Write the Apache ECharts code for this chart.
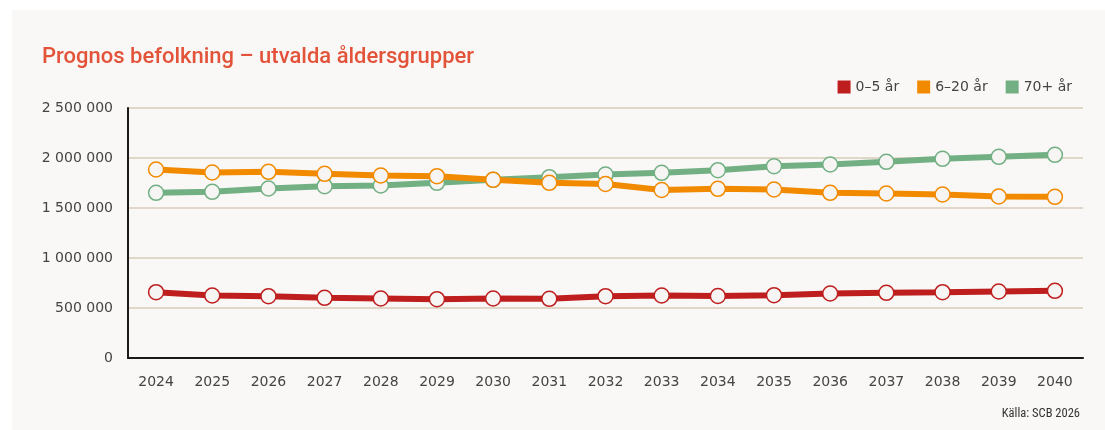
<!DOCTYPE html>
<html><head><meta charset="utf-8">
<script src="https://cdn.jsdelivr.net/npm/echarts@6/dist/echarts.min.js"></script>
<style>
html,body{margin:0;padding:0;background:#ffffff;}
#card{position:absolute;left:12px;top:10px;width:1093px;height:420px;background:#f9f8f6;}
#chart{position:absolute;left:0;top:0;width:1105px;height:430px;}
</style></head>
<body><div id="card"></div><div id="chart"></div>
<script>
const years = ['2024','2025','2026','2027','2028','2029','2030','2031','2032','2033','2034','2035','2036','2037','2038','2039','2040'];
const age0to5 = [658000,625000,618000,602000,595000,588000,595000,592000,618000,625000,620000,628000,645000,652000,658000,665000,672000];
const age6to20 = [1885000,1855000,1862000,1842000,1825000,1818000,1782000,1752000,1740000,1680000,1692000,1685000,1652000,1645000,1635000,1615000,1612000];
const age70plus = [1652000,1662000,1695000,1718000,1725000,1752000,1782000,1808000,1835000,1852000,1878000,1918000,1935000,1962000,1992000,2012000,2032000];
const seriesNames = ['0–5 år','6–20 år','70+ år'];
const yTicks = [0,500000,1000000,1500000,2000000,2500000];

const colors = {'0–5 år':'#be1e1e','6–20 år':'#f28a00','70+ år':'#72b084'};
const fmt = v => String(v).replace(/\B(?=(\d{3})+(?!\d))/g,' ');
const chart = echarts.init(document.getElementById('chart'));
function mk(name, data, z){
  return {name, type:'line', data, z,
    symbol:'circle', symbolSize:15,
    lineStyle:{color:colors[name], width:6},
    itemStyle:{color:'#f6f5f3', borderColor:colors[name], borderWidth:1.5},
    emphasis:{disabled:true}};
}
chart.setOption({
  animation:false,
  textStyle:{fontFamily:'"DejaVu Sans", sans-serif'},
  title:{text:'Prognos befolkning – utvalda åldersgrupper', left:42, top:46, padding:0,
    textStyle:{color:'#e3533a', fontSize:22, fontWeight:500, fontFamily:'Roboto, sans-serif'}},
  legend:{data:seriesNames.map(n=>({name:n, itemStyle:{color:colors[n], borderWidth:0}})),
    right:33, top:80, padding:0, itemWidth:13, itemHeight:13, itemGap:18, icon:'rect',
    textStyle:{color:'#444', fontSize:14, padding:[0,0,0,0]}},
  grid:{left:128, right:22, top:108, bottom:72, containLabel:false},
  xAxis:{type:'category', data:years, boundaryGap:true,
    axisLine:{lineStyle:{color:'#1a1a1a', width:2}}, axisTick:{show:false},
    axisLabel:{color:'#444', fontSize:14, margin:17}},
  yAxis:{type:'value', min:yTicks[0], max:yTicks[yTicks.length-1], interval:500000,
    axisLine:{show:true, lineStyle:{color:'#1a1a1a', width:2}}, axisTick:{show:false},
    splitLine:{lineStyle:{color:'#d9cdb8', width:1.5}},
    axisLabel:{color:'#444', fontSize:14, margin:15, formatter:fmt}},
  graphic:[{type:'text', right:25, top:407, style:{text:'Källa: SCB 2026', fill:'#333', fontSize:12.5, fontFamily:'"Roboto Condensed","Liberation Sans Narrow", Roboto, sans-serif'}}],
  series:[mk('0–5 år',age0to5,2), mk('70+ år',age70plus,3), mk('6–20 år',age6to20,4)]
});
</script></body></html>
